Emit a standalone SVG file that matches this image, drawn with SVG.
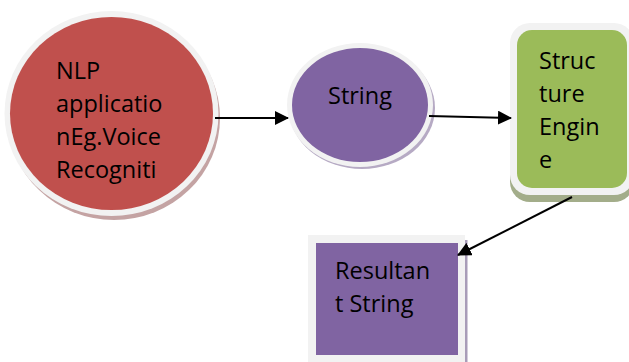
<svg xmlns="http://www.w3.org/2000/svg" width="629" height="362" viewBox="0 0 629 362">
  <style>
    .lbl { font-family: "Open Sans", "Noto Sans", sans-serif; font-size: 23.5px; fill: #000; }
    .ring { fill: #f2f2f2; }
    .edge { stroke: #000; stroke-width: 2; fill: none; marker-end: url(#head); }
  </style>
  <defs>
    <marker id="head" viewBox="0 0 14 14" refX="13" refY="7" markerWidth="14" markerHeight="14" markerUnits="userSpaceOnUse" orient="auto">
      <path d="M0,0 L14,7 L0,14 Z" fill="#000"/>
    </marker>
  </defs>
  <rect width="629" height="362" fill="#fff"/>

  <!-- source application -->
  <g id="nlp-app">
    <ellipse cx="114" cy="118" rx="106" ry="102" fill="#c4a3a3"/>
    <ellipse class="ring" cx="111.5" cy="113.5" rx="107" ry="102.5"/>
    <ellipse cx="111.5" cy="113.5" rx="101.5" ry="96.5" fill="#c0504d"/>
    <text class="lbl" x="56" y="79">NLP</text>
    <text class="lbl" x="56" y="112">applicatio</text>
    <text class="lbl" x="56" y="145">nEg.Voice</text>
    <text class="lbl" x="56" y="178">Recogniti</text>
  </g>

  <!-- intermediate string -->
  <g id="string">
    <ellipse cx="362" cy="108" rx="73" ry="61" fill="#b6aac4"/>
    <ellipse class="ring" cx="360" cy="105" rx="73" ry="62"/>
    <ellipse cx="360" cy="105" rx="68" ry="57" fill="#8064a2"/>
    <text class="lbl" x="328" y="104">String</text>
  </g>

  <!-- structure engine -->
  <g id="structure-engine">
    <rect x="510" y="30" width="124" height="172" rx="20" fill="#a3ad8a"/>
    <rect class="ring" x="510" y="23" width="124" height="172" rx="20"/>
    <rect x="517" y="30" width="110" height="158" rx="15" fill="#9bbb59"/>
    <text class="lbl" x="539" y="69">Struc</text>
    <text class="lbl" x="539" y="102">ture</text>
    <text class="lbl" x="539" y="135">Engin</text>
    <text class="lbl" x="539" y="168">e</text>
  </g>

  <!-- result -->
  <g id="resultant-string">
    <rect x="465" y="240" width="2.5" height="122" fill="#a89cb8"/>
    <rect class="ring" x="308" y="235" width="157" height="127"/>
    <rect x="316" y="243" width="142" height="112" fill="#8064a2"/>
    <text class="lbl" x="335" y="279">Resultan</text>
    <text class="lbl" x="335" y="312">t String</text>
  </g>

  <g id="connectors">
    <line class="edge" x1="215" y1="118" x2="288" y2="118"/>
    <line class="edge" x1="429" y1="116" x2="511" y2="118"/>
    <line class="edge" x1="572" y1="197" x2="458" y2="255"/>
  </g>
</svg>
